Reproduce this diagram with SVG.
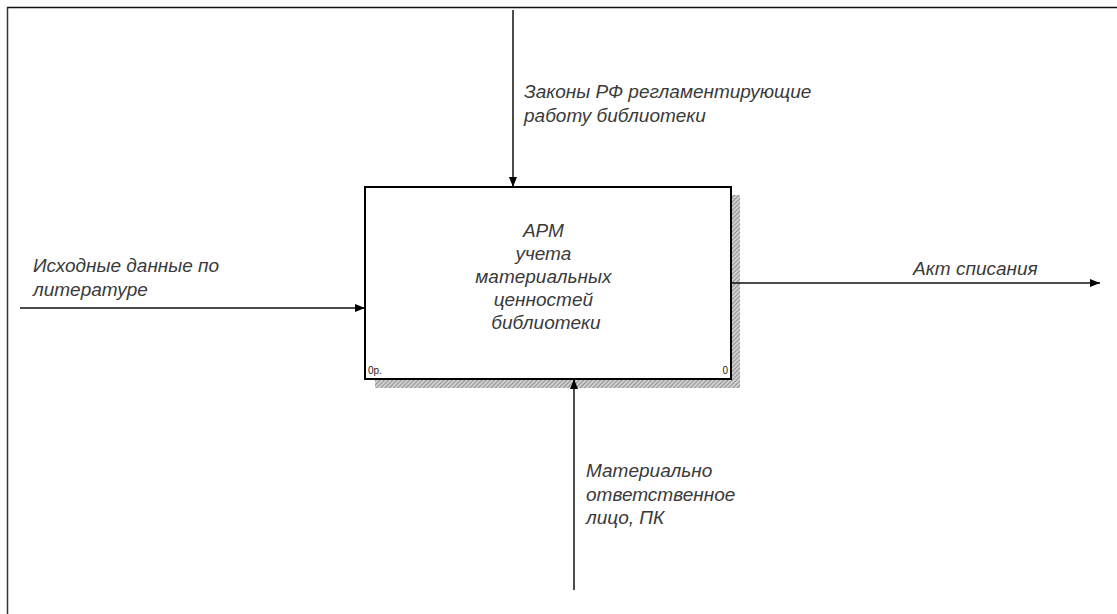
<svg xmlns="http://www.w3.org/2000/svg" width="1117" height="614" viewBox="0 0 1117 614">
<style>
.lbl{font-family:"Liberation Sans",Arial,sans-serif;font-style:italic;font-size:19px;fill:#3a3a3a}
.sm{font-family:"Liberation Sans",Arial,sans-serif;font-size:10px;fill:#222}
.conn{stroke:#111;stroke-width:1.5;fill:none}
</style>
<defs>
<pattern id="hatch" width="3" height="3" patternUnits="userSpaceOnUse" patternTransform="rotate(45)">
<rect width="3" height="3" fill="#d0d0d0"/>
<line x1="0" y1="0" x2="0" y2="3" stroke="#666" stroke-width="1.2"/>
</pattern>
<marker id="arr" viewBox="0 0 10 10" refX="10" refY="5" markerWidth="10" markerHeight="10" markerUnits="userSpaceOnUse" orient="auto">
<path d="M0,1 L10,5 L0,9 Z" fill="#000"/>
</marker>
</defs>
<rect width="1117" height="614" fill="#fff"/>
<g id="frame">
<line x1="7" y1="7.5" x2="1117" y2="7.5" stroke="#111" stroke-width="1.5"/>
<line x1="7.5" y1="7" x2="7.5" y2="614" stroke="#333" stroke-width="1.5"/>
</g>
<g id="node-A0">
<path d="M731,195 H740 V388 H375 V379 H731 Z" fill="url(#hatch)"/>
<rect x="365" y="187" width="366" height="192" fill="#fff" stroke="#000" stroke-width="2"/>
<text class="lbl" text-anchor="middle">
<tspan x="546" y="237">АРМ</tspan>
<tspan x="546" y="260">учета</tspan>
<tspan x="546" y="283">материальных</tspan>
<tspan x="546" y="306">ценностей</tspan>
<tspan x="546" y="329">библиотеки</tspan>
</text>
<text class="sm" x="368" y="374">0р.</text>
<text class="sm" x="728" y="374" text-anchor="end">0</text>
</g>
<g id="connectors">
<line class="conn" x1="513" y1="10" x2="513" y2="187" marker-end="url(#arr)"/>
<line class="conn" x1="20" y1="308" x2="365" y2="308" marker-end="url(#arr)"/>
<line class="conn" x1="731" y1="283" x2="1100" y2="283" marker-end="url(#arr)"/>
<line class="conn" x1="574" y1="590" x2="574" y2="379" marker-end="url(#arr)"/>
</g>
<g id="labels">
<text class="lbl"><tspan x="524" y="98">Законы РФ регламентирующие</tspan><tspan x="524" y="122">работу библиотеки</tspan></text>
<text class="lbl"><tspan x="33" y="272">Исходные данные по</tspan><tspan x="33" y="296">литературе</tspan></text>
<text class="lbl" x="913" y="275">Акт списания</text>
<text class="lbl"><tspan x="586" y="477">Материально</tspan><tspan x="586" y="501">ответственное</tspan><tspan x="586" y="524">лицо, ПК</tspan></text>
</g>
</svg>
